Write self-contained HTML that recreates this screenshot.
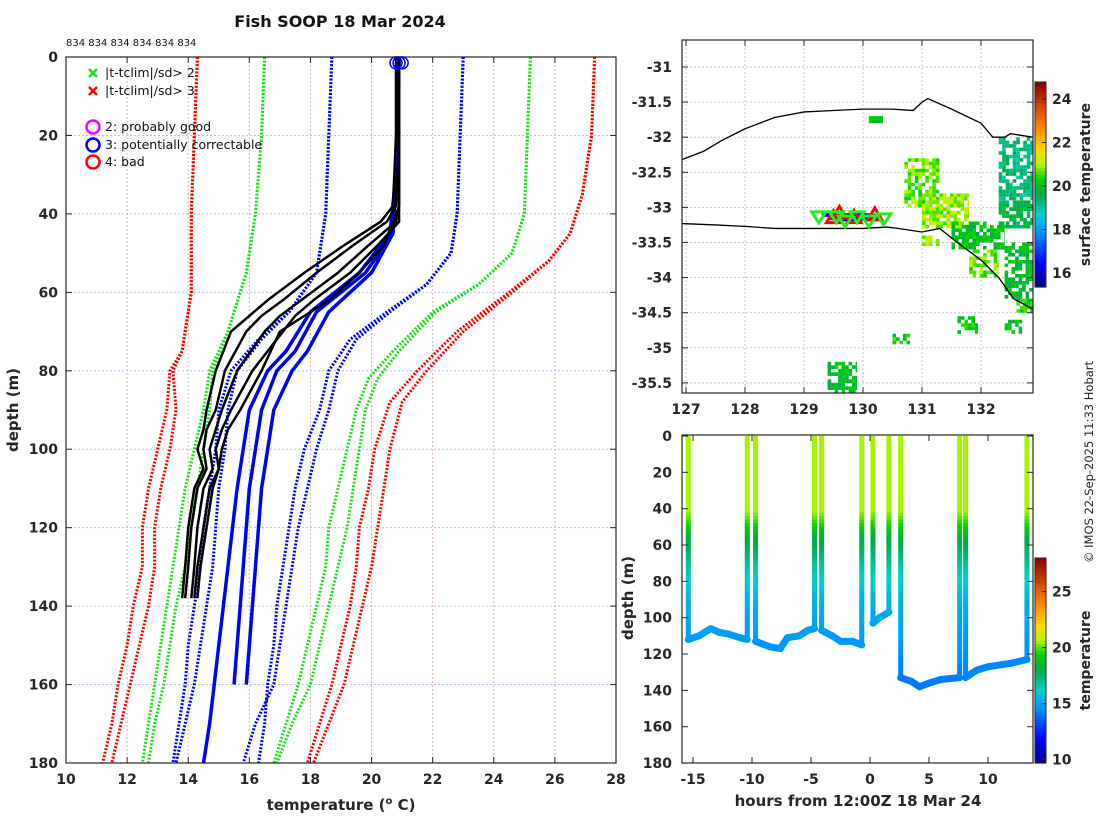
<!DOCTYPE html>
<html><head><meta charset="utf-8"><style>
body{margin:0;background:#fff;}
svg{display:block;font-family:"DejaVu Sans","Liberation Sans",sans-serif;}
.tk{font-size:14px;font-weight:bold;fill:#262626;}
.lg{font-size:12.5px;fill:#111;font-family:"DejaVu Sans",sans-serif;}
</style></head><body>
<svg id="s" width="1100" height="820" viewBox="0 0 1100 820" xmlns="http://www.w3.org/2000/svg">
<rect width="1100" height="820" fill="#fff"/>
<text x="340" y="27" text-anchor="middle" font-size="16" font-weight="bold" fill="#111">Fish SOOP 18 Mar 2024</text>
<text x="66" y="46" font-size="10" fill="#111" font-family="DejaVu Sans,sans-serif">834 834 834 834 834 834</text>
<g id="left"></g>
<g id="map"></g>
<g id="bot"></g>
<text transform="translate(1093,462) rotate(-90)" text-anchor="middle" font-size="11.5" fill="#222">© IMOS 22-Sep-2025 11:33 Hobart</text>
</svg>
<script>
// ---------- data: left profile plot ----------
const redLD=[0,20,40,60,75,80,90,100,110,120,130,140,150,160,170,180];
const redLT=[14.3,14.2,14.1,14.1,13.8,13.4,13.3,13.0,12.7,12.5,12.5,12.2,12.0,11.7,11.5,11.2];
const redL2T=[14.3,14.2,14.1,14.1,13.8,13.5,13.6,13.4,13.1,12.9,12.9,12.7,12.4,12.1,11.8,11.5];
const grnLD=[0,20,40,55,70,80,90,100,110,120,130,140,150,160,170,180];
const grnLT=[16.5,16.4,16.2,15.9,15.3,14.7,14.5,14.2,13.9,13.7,13.5,13.3,13.1,12.9,12.7,12.5];
const grnL2T=[16.5,16.4,16.2,15.9,15.3,14.8,14.7,14.5,14.3,14.1,13.9,13.6,13.4,13.2,12.9,12.7];
const bluLD=[0,20,40,55,65,72,80,90,100,110,120,130,140,150,160,170,180];
const bluLT=[18.7,18.6,18.5,18.2,17.3,16.3,15.4,15.0,14.9,14.7,14.5,14.4,14.2,14.0,13.9,13.7,13.5];
const bluL2T=[18.7,18.6,18.5,18.2,17.3,16.4,15.6,15.3,15.2,15.0,14.9,14.8,14.6,14.4,14.2,13.9,13.6];
const bluRD=[0,20,40,50,58,65,72,80,90,100,110,120,130,140,150,160,170,180];
const bluRT=[23.0,22.9,22.8,22.6,21.8,20.5,19.3,18.6,18.3,17.8,17.5,17.3,17.1,16.9,16.8,16.6,16.5,16.3];
const bluR2T=[23.0,22.9,22.8,22.6,21.8,20.6,19.5,18.9,18.6,18.2,17.9,17.6,17.4,17.2,17.0,16.8,16.2,15.8];
const grnRD=[0,20,40,50,58,65,75,82,90,100,110,120,130,140,150,160,170,180];
const grnRT=[25.2,25.1,25.0,24.6,23.5,22.0,20.7,19.9,19.5,19.2,18.9,18.6,18.5,18.2,17.9,17.6,17.2,16.8];
const grnR2T=[25.2,25.1,25.0,24.6,23.5,22.1,20.9,20.2,19.8,19.6,19.4,19.2,18.9,18.6,18.3,18.0,17.4,16.9];
const redRD=[0,20,35,45,52,60,70,80,88,100,110,120,130,140,150,160,170,180];
const redRT=[27.3,27.2,26.9,26.5,25.8,24.5,22.8,21.5,20.6,20.1,19.9,19.6,19.5,19.3,19.0,18.7,18.3,17.9];
const redR2T=[27.3,27.2,26.9,26.5,25.8,24.6,23.0,21.8,21.0,20.6,20.4,20.2,20.0,19.7,19.4,19.1,18.6,18.1];
const blkD=[0,20,38,42,48,55,62,66,70,80,90,95,100,105,110,120,130,138];
const blk1=[20.9,20.9,20.8,20.5,19.4,18.2,17.1,16.4,15.9,15.2,14.9,14.6,14.5,14.6,14.3,14.1,14.0,13.9];
const blk2=[20.9,20.9,20.9,20.8,19.9,18.9,17.7,17.0,16.5,15.6,15.1,14.9,14.7,14.8,14.5,14.3,14.2,14.1];
const blk3=[20.8,20.8,20.7,20.3,19.1,17.8,16.6,16.0,15.4,14.9,14.6,14.5,14.3,14.5,14.2,14.0,13.9,13.8];
const blk4=[20.9,20.9,20.9,20.9,20.2,19.3,18.1,17.5,17.1,16.1,15.4,15.1,14.9,15.0,14.7,14.5,14.3,14.2];
const blk5=[20.9,20.9,20.9,20.7,20.4,19.6,18.6,17.8,17.0,16.4,15.7,15.3,15.1,15.0,14.8,14.6,14.4,14.3];
const sbD=[0,30,45,55,65,75,80,90,110,130,150,160];
const sb1=[20.9,20.8,20.7,19.8,18.2,17.5,16.9,16.4,16.0,15.8,15.6,15.5];
const sb2=[20.9,20.8,20.7,20.0,18.6,17.9,17.4,16.8,16.4,16.2,16.0,15.9];
const sb3D=[0,30,45,55,65,75,80,90,110,130,150,170,180];
const sb3=[20.9,20.8,20.6,19.6,18.0,17.2,16.6,16.0,15.6,15.3,15.0,14.7,14.5];
const tTicks=[10,12,14,16,18,20,22,24,26,28];
const dTicks=[0,20,40,60,80,100,120,140,160,180];
// ---------- data: map ----------
const lonTicks=[127,128,129,130,131,132];
const latTicks=[-31,-31.5,-32,-32.5,-33,-33.5,-34,-34.5,-35,-35.5];
const nCoastLon=[126.93,127.3,127.6,128,128.5,129,129.5,130,130.5,130.85,131.0,131.1,131.5,132,132.2,132.4,132.5,132.88];
const nCoastLat=[-32.32,-32.2,-32.05,-31.88,-31.72,-31.64,-31.62,-31.6,-31.6,-31.62,-31.5,-31.45,-31.6,-31.8,-32.0,-32.0,-31.95,-32.0];
const sCoastLon=[126.93,127.5,128,128.5,129,129.5,130.0,130.4,130.6,131,131.3,131.6,132,132.3,132.55,132.88];
const sCoastLat=[-33.23,-33.25,-33.27,-33.3,-33.3,-33.3,-33.3,-33.28,-33.3,-33.35,-33.3,-33.5,-33.75,-34.0,-34.3,-34.45];
const patchLon0=[132.3,130.7,131.0,131.5,131.8,132.4,132.3,129.4,131.6,132.4,130.5,130.1,131.0,132.6];
const patchLon1=[132.88,131.3,131.8,132.4,132.3,132.88,132.88,129.9,131.95,132.7,130.8,130.4,131.3,132.88];
const patchLat0=[-32.0,-32.3,-32.8,-33.2,-33.6,-33.5,-32.9,-35.2,-34.55,-34.6,-34.8,-31.7,-33.4,-34.3];
const patchLat1=[-32.9,-33.0,-33.3,-33.6,-34.0,-34.3,-33.3,-35.64,-34.8,-34.8,-34.95,-31.8,-33.55,-34.5];
const patchT=[19.3,20.6,20.9,20.0,20.7,19.9,19.6,19.9,20.1,20.0,20.2,20.0,20.8,20.2];
const trackLon=[129.3,129.6,129.9,130.2,130.3,130.0,129.7,129.4];
const trackLat=[-33.1,-33.12,-33.1,-33.12,-33.14,-33.16,-33.17,-33.15];
const upLon=[129.5,129.85,130.2,129.6];
const upLat=[-33.16,-33.16,-33.12,-33.1];
const dnLon=[129.25,129.55,129.9,130.1,130.35,129.7];
const dnLat=[-33.12,-33.12,-33.12,-33.18,-33.15,-33.18];
const mapCbTicks=[16,18,20,22,24];
// ---------- data: depth-time plot ----------
const dropH=[-15.4,-10.4,-9.7,-4.7,-4.1,-0.7,0.25,1.6,2.6,7.6,8.1,13.3];
const dropMax=[112,112,113,106,107,115,103,97,133,133,133,123];
const floorH=[-15.4,-14.5,-13.5,-12.8,-12,-11,-10.4,null,-9.7,-8.5,-7.6,-7,-6,-5.3,-4.7,null,-4.1,-3.2,-2.5,-1.5,-0.7,null,0.25,0.8,1.6,null,2.6,3.5,4.2,5,6,7.6,null,8.1,9,10,11,12,13.3];
const floorD=[112,110,106,108,109,111,112,null,113,116,117,111,110,107,106,null,107,110,113,113,115,null,103,100,97,null,133,135,138,136,134,133,null,133,129,127,126,125,123];
const colD=[0,40,48,55,62,75,90,110,140];
const colT=[20.6,20.6,19.5,18.2,17.6,16.5,15.4,14.8,14.0];
const hTicks=[-15,-10,-5,0,5,10];
const bdTicks=[0,20,40,60,80,100,120,140,160,180];
const cbTicks=[10,15,20,25];

const NS="http://www.w3.org/2000/svg";
function mk(p,tag,a){const e=document.createElementNS(NS,tag);for(const k in a)e.setAttribute(k,a[k]);p.appendChild(e);return e;}
const stops=[[0,[0,0,127]],[0.12,[0,0,255]],[0.27,[0,150,255]],[0.36,[0,210,200]],[0.45,[0,170,80]],[0.53,[0,210,0]],[0.6,[180,245,0]],[0.67,[255,220,0]],[0.8,[255,120,0]],[1,[140,0,0]]];
function cmap(v){v=Math.max(0,Math.min(1,v));for(let i=1;i<stops.length;i++){if(v<=stops[i][0]){const a=stops[i-1],b=stops[i],f=(v-a[0])/(b[0]-a[0]);return 'rgb('+a[1].map((c,j)=>Math.round(c+(b[1][j]-c)*f)).join(',')+')';}}return 'rgb(140,0,0)';}

// ===== left plot =====
const L=document.getElementById('left');
const xT=t=>66+(t-10)*550/18, yD=d=>57+d*706/180;
tTicks.forEach(t=>{if(t>10&&t<28){const g=mk(L,'line',{x1:xT(t),x2:xT(t),y1:57,y2:763,stroke:'#d9b8a8','stroke-dasharray':'2 2','stroke-width':1});

}});
dTicks.forEach(d=>{if(d>0&&d<180){const g=mk(L,'line',{x1:66,x2:616,y1:yD(d),y2:yD(d),stroke:'#b8c0e8','stroke-dasharray':'2 2','stroke-width':1});

}});
function line(par,D,T,col,dot,w,name){const pts=D.map((d,i)=>xT(T[i])+','+yD(d)).join(' ');const e=mk(par,'polyline',{points:pts,fill:'none',stroke:col,'stroke-width':w,'stroke-linejoin':'round'});if(dot)e.setAttribute('stroke-dasharray','2 1.6');

}
line(L,redLD,redLT,'#f00',1,3,'clim-minus-3sd-line');line(L,redLD,redL2T,'#f00',1,3,'clim-minus-3sd-line');
line(L,grnLD,grnLT,'#2d2',1,3,'clim-minus-2sd-line');line(L,grnLD,grnL2T,'#2d2',1,3,'clim-minus-2sd-line');
line(L,bluLD,bluLT,'#00f',1,3,'clim-minus-1sd-line');line(L,bluLD,bluL2T,'#00f',1,3,'clim-minus-1sd-line');
line(L,bluRD,bluRT,'#00f',1,3,'clim-plus-1sd-line');line(L,bluRD,bluR2T,'#00f',1,3,'clim-plus-1sd-line');
line(L,grnRD,grnRT,'#2d2',1,3,'clim-plus-2sd-line');line(L,grnRD,grnR2T,'#2d2',1,3,'clim-plus-2sd-line');
line(L,redRD,redRT,'#f00',1,3,'clim-plus-3sd-line');line(L,redRD,redR2T,'#f00',1,3,'clim-plus-3sd-line');
line(L,sbD,sb1,'#00f',0,3.5,'mean-profile-line');line(L,sbD,sb2,'#00f',0,3.5,'mean-profile-line');line(L,sb3D,sb3,'#00f',0,3.5,'mean-profile-line');
[blk1,blk2,blk3,blk4,blk5].forEach(b=>line(L,blkD,b,'#000',0,2.5,'xbt-profile-line'));
[20.8,20.9,21.0].forEach(t=>{const c=mk(L,'circle',{cx:xT(t),cy:yD(1.5),r:6,fill:'none',stroke:'#00f','stroke-width':1.5});

});
mk(L,'rect',{x:66,y:57,width:550,height:706,fill:'none',stroke:'#262626','stroke-width':1.2});
tTicks.forEach(t=>{mk(L,'line',{x1:xT(t),x2:xT(t),y1:763,y2:757,stroke:'#262626'});mk(L,'line',{x1:xT(t),x2:xT(t),y1:57,y2:63,stroke:'#262626'});
const e=mk(L,'text',{x:xT(t),y:784,'text-anchor':'middle',class:'tk'});e.textContent=t;

});
dTicks.forEach(d=>{mk(L,'line',{x1:66,x2:72,y1:yD(d),y2:yD(d),stroke:'#262626'});mk(L,'line',{x1:616,x2:610,y1:yD(d),y2:yD(d),stroke:'#262626'});
const e=mk(L,'text',{x:58,y:yD(d)+5,'text-anchor':'end',class:'tk'});e.textContent=d;

});
{const e=mk(L,'text',{x:341,y:810,'text-anchor':'middle','font-size':15,'font-weight':'bold',fill:'#262626'});e.innerHTML='temperature (<tspan dy="-6" font-size="10">o</tspan><tspan dy="6"> C)</tspan>';

}
{const e=mk(L,'text',{transform:'translate(18,410) rotate(-90)','text-anchor':'middle','font-size':15,'font-weight':'bold',fill:'#262626'});e.textContent='depth (m)';

}
// legend
const LG=mk(L,'g',{});


[['#2d2',73,'|t-tclim|/sd> 2'],['#f00',91,'|t-tclim|/sd> 3']].forEach(a=>{const g=mk(LG,'g',{});


mk(g,'path',{d:`M${89},${a[1]-4}l8,8M${97},${a[1]-4}l-8,8`,stroke:a[0],'stroke-width':2.5});const t=mk(g,'text',{x:105,y:a[1]+4,class:'lg'});t.textContent=a[2];});
[['#f0f',127,'2: probably good'],['#00f',145,'3: potentially correctable'],['#f00',162,'4: bad']].forEach(a=>{const g=mk(LG,'g',{});


mk(g,'circle',{cx:93,cy:a[1],r:6.5,fill:'none',stroke:a[0],'stroke-width':2.5});const t=mk(g,'text',{x:105,y:a[1]+4,class:'lg'});t.textContent=a[2];});

// ===== map =====
const M=document.getElementById('map');
const xL=l=>686+(l-127)*59, yLa=a=>67+(-31-a)*70.2;
lonTicks.forEach(l=>{const g=mk(M,'line',{x1:xL(l),x2:xL(l),y1:40,y2:393,stroke:'#c8c0d8','stroke-dasharray':'2 2'});

});
latTicks.forEach(a=>{const g=mk(M,'line',{x1:682,x2:1033,y1:yLa(a),y2:yLa(a),stroke:'#c8c0d8','stroke-dasharray':'2 2'});

});
function hsh(i,j){let h=(i*374761393+j*668265263)^0x5bd1e995;h=(h^(h>>>13))*1274126177;return ((h^(h>>>16))>>>0)/4294967296;}
patchT.forEach((t,k)=>{const g=mk(M,'g',{});


const x0=xL(patchLon0[k]),x1=xL(patchLon1[k]),y0=yLa(patchLat0[k]),y1=yLa(patchLat1[k]);
for(let x=x0;x<x1-0.5;x+=3.5)for(let y=y0;y<y1-0.5;y+=3.5){const r=hsh(Math.round(x*3),Math.round(y*3)+k);if(r<0.3)continue;
mk(g,'rect',{x:x,y:y,width:Math.min(3.6,x1-x),height:Math.min(3.6,y1-y),fill:cmap((t+(r-0.6)*1.2-15.36)/(24.78-15.36))});}});
[[nCoastLon,nCoastLat,'north-coastline'],[sCoastLon,sCoastLat,'south-coastline']].forEach(c=>{const p=mk(M,'polyline',{points:c[0].map((l,i)=>xL(l)+','+yLa(c[1][i])).join(' '),fill:'none',stroke:'#000','stroke-width':1.3});

});
{const p=mk(M,'polyline',{points:trackLon.map((l,i)=>xL(l)+','+yLa(trackLat[i])).join(' '),fill:'none',stroke:'#00f','stroke-width':4});

}
upLon.forEach((l,i)=>{const x=xL(l),y=yLa(upLat[i]);const p=mk(M,'path',{d:`M${x},${y-8}l7,12h-14z`,fill:'none',stroke:'#f00','stroke-width':3});

});
dnLon.forEach((l,i)=>{const x=xL(l),y=yLa(dnLat[i]);const p=mk(M,'path',{d:`M${x},${y+7}l-7,-11h14z`,fill:'none',stroke:'#2e2','stroke-width':3});

});
mk(M,'rect',{x:682,y:40,width:351,height:353,fill:'none',stroke:'#262626','stroke-width':1.2});
lonTicks.forEach(l=>{mk(M,'line',{x1:xL(l),x2:xL(l),y1:393,y2:387,stroke:'#262626'});mk(M,'line',{x1:xL(l),x2:xL(l),y1:40,y2:46,stroke:'#262626'});
const e=mk(M,'text',{x:xL(l),y:414,'text-anchor':'middle',class:'tk'});e.textContent=l;

});
latTicks.forEach(a=>{mk(M,'line',{x1:682,x2:688,y1:yLa(a),y2:yLa(a),stroke:'#262626'});mk(M,'line',{x1:1033,x2:1027,y1:yLa(a),y2:yLa(a),stroke:'#262626'});
const e=mk(M,'text',{x:672,y:yLa(a)+5,'text-anchor':'end',class:'tk'});e.textContent=a;

});
function cbar(par,x,y0,y1,vmin,vmax,ticks,label,name){const g=mk(par,'g',{});


const n=60,h=(y1-y0)/n;for(let i=0;i<n;i++)mk(g,'rect',{x:x,y:y1-(i+1)*h,width:11,height:h+0.6,fill:cmap((i+0.5)/n)});
mk(g,'rect',{x:x,y:y0,width:11,height:y1-y0,fill:'none',stroke:'#262626'});
ticks.forEach(t=>{const y=y1-(t-vmin)/(vmax-vmin)*(y1-y0);mk(g,'line',{x1:x+11,x2:x+7,y1:y,y2:y,stroke:'#262626'});const e=mk(g,'text',{x:x+17,y:y+5,class:'tk','font-size':14});e.textContent=t;});
const e=mk(g,'text',{transform:`translate(${x+55},${(y0+y1)/2}) rotate(-90)`,'text-anchor':'middle','font-size':14,'font-weight':'bold',fill:'#262626'});e.textContent=label;}
cbar(M,1035,82,287,15.36,24.78,mapCbTicks,'surface temperature','sst-colorbar');

// ===== depth-time plot =====
const B=document.getElementById('bot');
const xH=h=>870+h*11.8, yB=d=>436+d*1.817;
function colAt(d){for(let i=1;i<colD.length;i++)if(d<=colD[i]){const f=(d-colD[i-1])/(colD[i]-colD[i-1]);return colT[i-1]+(colT[i]-colT[i-1])*f;}return colT[colT.length-1];}
const VMIN=9.7,VMAX=28;
let seg=[];
floorH.forEach((h,i)=>{if(h===null){seg=[];return;}seg.push([h,floorD[i]]);
if(seg.length>1){const a=seg[seg.length-2],b=seg[seg.length-1];const p=mk(B,'line',{x1:xH(a[0]),y1:yB(a[1]),x2:xH(b[0]),y2:yB(b[1]),stroke:cmap((colAt(b[1])-VMIN)/(VMAX-VMIN)),'stroke-width':7,'stroke-linecap':'round'});

}});
dropH.forEach((h,i)=>{const g=mk(B,'g',{});


for(let d=0;d<dropMax[i];d+=2){mk(g,'line',{x1:xH(h),x2:xH(h),y1:yB(d),y2:yB(Math.min(d+2.4,dropMax[i])),stroke:cmap((colAt(d)-VMIN)/(VMAX-VMIN)),'stroke-width':5});}});
mk(B,'rect',{x:682,y:435,width:351,height:328,fill:'none',stroke:'#262626','stroke-width':1.2});
hTicks.forEach(h=>{mk(B,'line',{x1:xH(h),x2:xH(h),y1:763,y2:757,stroke:'#262626'});mk(B,'line',{x1:xH(h),x2:xH(h),y1:435,y2:441,stroke:'#262626'});
const e=mk(B,'text',{x:xH(h),y:784,'text-anchor':'middle',class:'tk'});e.textContent=h;

});
bdTicks.forEach(d=>{mk(B,'line',{x1:682,x2:688,y1:yB(d),y2:yB(d),stroke:'#262626'});mk(B,'line',{x1:1033,x2:1027,y1:yB(d),y2:yB(d),stroke:'#262626'});
const e=mk(B,'text',{x:672,y:yB(d)+5,'text-anchor':'end',class:'tk'});e.textContent=d;

});
{const e=mk(B,'text',{x:858,y:806,'text-anchor':'middle','font-size':15,'font-weight':'bold',fill:'#262626'});e.textContent='hours from 12:00Z 18 Mar 24';

}
{const e=mk(B,'text',{transform:'translate(633,598) rotate(-90)','text-anchor':'middle','font-size':15,'font-weight':'bold',fill:'#262626'});e.textContent='depth (m)';

}
cbar(B,1035,558,763,VMIN,VMAX,cbTicks,'temperature','temperature-colorbar');
</script>
</body></html>
